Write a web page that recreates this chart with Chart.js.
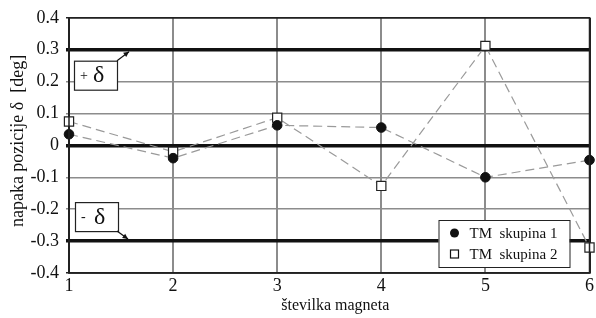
<!DOCTYPE html>
<html><head><meta charset="utf-8">
<script src="https://cdn.jsdelivr.net/npm/chart.js@4/dist/chart.umd.min.js"></script>
<style>html,body{margin:0;padding:0;background:#fff}#wrap{width:596px;height:318px}</style>
</head><body><div id="wrap"><canvas id="c" width="596" height="318"></canvas></div>
<script>
const magnets = [1, 2, 3, 4, 5, 6];
const group1 = [0.035, -0.04, 0.063, 0.056, -0.1, -0.046];
const group2 = [0.075, -0.02, 0.087, -0.127, 0.312, -0.32];
const series1Label = 'TM  skupina 1';
const series2Label = 'TM  skupina 2';
const limitValues = [0.3, 0, -0.3];
const yTitle = '  napaka pozicije δ  [deg]';
const xTitle = '   številka magneta';

const FONT = "'Liberation Serif', 'Times New Roman', serif";
const isLimit = v => limitValues.some(l => Math.abs(l - v) < 1e-6);

const overlay = {
  id: 'overlay',
  afterDatasetsDraw(chart) {
    const ctx = chart.ctx, a = chart.chartArea, ys = chart.scales.y;
    ctx.save();
    ctx.strokeStyle = '#222'; ctx.lineWidth = 1.5;
    ctx.strokeRect(a.left, a.top, a.right - a.left, a.bottom - a.top);
    function box(x, y, w, h, sign, ax1, ay1, ax2, ay2) {
      ctx.fillStyle = '#fff'; ctx.fillRect(x, y, w, h);
      ctx.strokeStyle = '#222'; ctx.lineWidth = 1.2; ctx.strokeRect(x + 0.5, y + 0.5, w, h);
      ctx.fillStyle = '#111'; ctx.textBaseline = 'middle';
      ctx.font = '14px ' + FONT; ctx.textAlign = 'left';
      ctx.fillText(sign, x + 6, y + h / 2 + 1);
      ctx.font = '24px ' + FONT;
      ctx.fillText('δ', x + 19, y + h / 2 + 1);
      ctx.strokeStyle = '#111'; ctx.lineWidth = 1.2;
      ctx.beginPath(); ctx.moveTo(ax1, ay1); ctx.lineTo(ax2, ay2); ctx.stroke();
      const ang = Math.atan2(ay2 - ay1, ax2 - ax1), L = 6;
      ctx.beginPath(); ctx.moveTo(ax2, ay2);
      ctx.lineTo(ax2 - L * Math.cos(ang - 0.45), ay2 - L * Math.sin(ang - 0.45));
      ctx.lineTo(ax2 - L * Math.cos(ang + 0.45), ay2 - L * Math.sin(ang + 0.45));
      ctx.closePath(); ctx.fill();
    }
    const yTop = ys.getPixelForValue(limitValues[0]);
    const yBot = ys.getPixelForValue(limitValues[2]);
    const bx = a.left + 5;
    box(bx, yTop + 11, 43, 29, '+', bx + 43, yTop + 11, bx + 55, yTop + 2);
    box(bx + 1, yBot - 39, 43, 29, '-', bx + 43, yBot - 10, bx + 54, yBot - 2);
    const lx = a.right - 151, ly = a.bottom - 53, lw = 131, lh = 47;
    ctx.fillStyle = '#fff'; ctx.fillRect(lx, ly, lw, lh);
    ctx.strokeStyle = '#222'; ctx.lineWidth = 1; ctx.strokeRect(lx + 0.5, ly + 0.5, lw, lh);
    ctx.fillStyle = '#111';
    ctx.beginPath(); ctx.arc(lx + 16, ly + 13, 4.5, 0, Math.PI * 2); ctx.fill();
    ctx.fillStyle = '#fff'; ctx.strokeStyle = '#111'; ctx.lineWidth = 1.2;
    ctx.fillRect(lx + 12, ly + 30, 8, 8); ctx.strokeRect(lx + 12, ly + 30, 8, 8);
    ctx.fillStyle = '#111'; ctx.font = '15px ' + FONT; ctx.textAlign = 'left'; ctx.textBaseline = 'middle';
    ctx.fillText(series1Label, lx + 31, ly + 14);
    ctx.fillText(series2Label, lx + 31, ly + 35);
    ctx.restore();
  }
};

new Chart(document.getElementById('c'), {
  type: 'line',
  data: {
    datasets: [
      { label: series1Label, data: magnets.map((m, i) => ({x: m, y: group1[i]})),
        borderColor: '#9a9a9a', borderWidth: 1.2, borderDash: [9, 5], fill: false,
        pointStyle: 'circle', pointRadius: 4.8, pointBackgroundColor: '#111', pointBorderColor: '#111', pointBorderWidth: 1 },
      { label: series2Label, data: magnets.map((m, i) => ({x: m, y: group2[i]})),
        borderColor: '#9a9a9a', borderWidth: 1.2, borderDash: [9, 5], fill: false,
        pointStyle: 'rect', pointRadius: 6.5, pointBackgroundColor: '#fff', pointBorderColor: '#222', pointBorderWidth: 1.2 }
    ]
  },
  options: {
    responsive: false, animation: false, devicePixelRatio: 1,
    clip: false,
    layout: { autoPadding: false, padding: { left: 5, right: 0, top: 17, bottom: 0 } },
    plugins: { legend: { display: false }, tooltip: { enabled: false } },
    scales: {
      x: {
        type: 'linear', min: 1, max: 6,
        afterFit: s => { s.height = 45; },
        ticks: { stepSize: 1, color: '#111', font: { family: FONT, size: 18 }, padding: 2 },
        grid: { color: c => (c.tick && (c.tick.value === 1 || c.tick.value === 6)) ? '#222' : '#8c8c8c',
                lineWidth: 2, drawTicks: false },
        border: { color: '#222', width: 1.5 },
        title: { display: true, text: xTitle, color: '#111', font: { family: FONT, size: 16 }, padding: { top: 0, bottom: 3 } }
      },
      y: {
        min: -0.4, max: 0.4,
        afterFit: s => { s.width = 64; },
        ticks: { stepSize: 0.1, color: '#111', font: { family: FONT, size: 18 }, padding: 7,
                 callback: v => { const r = Math.round(v * 10) / 10; return r === 0 ? '0' : r.toFixed(1); } },
        grid: {
          color: c => { const v = c.tick ? c.tick.value : 0; if (isLimit(v)) return '#111'; if (Math.abs(Math.abs(v) - 0.4) < 1e-6) return '#222'; return '#8c8c8c'; },
          lineWidth: c => { const v = c.tick ? c.tick.value : 0; return isLimit(v) ? 3.5 : 1.6; },
          drawTicks: true, tickLength: 3
        },
        border: { color: '#222', width: 1.5 },
        title: { display: true, text: yTitle, color: '#111', font: { family: FONT, size: 18 }, padding: { top: 2, bottom: 0 } }
      }
    }
  },
  plugins: [overlay]
});
</script></body></html>
